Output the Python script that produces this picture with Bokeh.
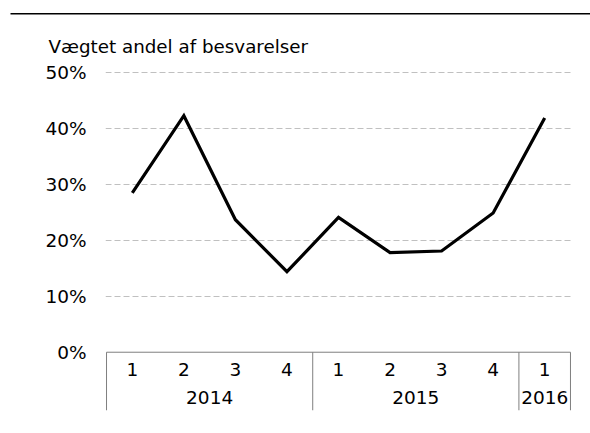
from bokeh.plotting import figure
from bokeh.models import Range1d, FixedTicker, PrintfTickFormatter, Title, ColumnDataSource
from bokeh.core.properties import value
from bokeh.embed import file_html
from bokeh.resources import INLINE

# ---- data ----
years = ["2014", "2015", "2016"]
quarters_per_year = [4, 4, 1]
quarter_labels = ["1", "2", "3", "4", "1", "2", "3", "4", "1"]
shares = [28.5, 42.3, 23.7, 14.4, 24.1, 17.8, 18.1, 24.9, 41.9]  # percent
y_ticks = [0, 10, 20, 30, 40, 50]
title_text = "Vægtet andel af besvarelser"

FONT = "DejaVu Sans"
FS = "18.5px"

W, H = 590, 433
n = len(shares)
x_pos = [i + 0.5 for i in range(n)]
y_bottom = -10.42

p = figure(width=W, height=H, output_backend="svg", toolbar_location=None, title=None,
           x_range=Range1d(-0.02, n + 0.02), y_range=Range1d(y_bottom, 50.2),
           x_axis_location=None, y_axis_location="left",
           min_border_left=105, min_border_right=19, min_border_top=71, min_border_bottom=23)
p.outline_line_color = None
p.background_fill_color = "white"
p.border_fill_color = "white"

main_title = Title(text=title_text, align="left", offset=-57, text_font=FONT,
                   text_font_size="18.3px", text_font_style="normal", text_color="black",
                   standoff=30)
p.add_layout(main_title, "above")

# top rule across the canvas: an (empty) title whose padded background forms a thin bar
rule = Title(text=" ", align="left", offset=-95, text_font_size="1.3px",
             text_color="black", padding=(0, W, 0, 0),
             background_fill_color="black", background_fill_alpha=1,
             border_line_color=None, standoff=8)
p.add_layout(rule, "above")

# y axis
yax = p.yaxis[0]
yax.ticker = FixedTicker(ticks=y_ticks)
yax.formatter = PrintfTickFormatter(format="%d%%")
yax.axis_line_color = None
yax.major_tick_line_color = None
yax.minor_tick_line_color = None
yax.major_tick_out = 0
yax.major_label_standoff = 19
yax.major_label_text_font = FONT
yax.major_label_text_font_size = FS
yax.major_label_text_color = "black"

# grid
p.xgrid.visible = False
p.ygrid.ticker = FixedTicker(ticks=[t for t in y_ticks if t > 0])
p.ygrid.grid_line_color = "#c0c0c0"
p.ygrid.grid_line_dash = "6 3"
p.ygrid.grid_line_width = 1

# zero line
p.segment(x0=[0], y0=[0], x1=[n], y1=[0], line_color="#7f7f7f", line_width=1)

# category table separators
bounds = [0]
for q in quarters_per_year:
    bounds.append(bounds[-1] + q)
p.segment(x0=bounds, y0=[0] * len(bounds), x1=bounds, y1=[y_bottom] * len(bounds),
          line_color="#7f7f7f", line_width=1)

# quarter labels
p.text(x=x_pos, y=[-3.1] * n, text=quarter_labels, text_align="center",
       text_baseline="middle", text_font=value(FONT), text_font_size=FS, text_color="black")

# year labels
year_x = [(bounds[i] + bounds[i + 1]) / 2 for i in range(len(years))]
p.text(x=year_x, y=[-8.15] * len(years), text=years, text_align="center",
       text_baseline="middle", text_font=value(FONT), text_font_size=FS, text_color="black")

# data line
src = ColumnDataSource(dict(x=x_pos, y=shares))
p.line("x", "y", source=src, line_color="black", line_width=3.2, line_join="miter")

open("out.html", "w").write(file_html(p, INLINE))
